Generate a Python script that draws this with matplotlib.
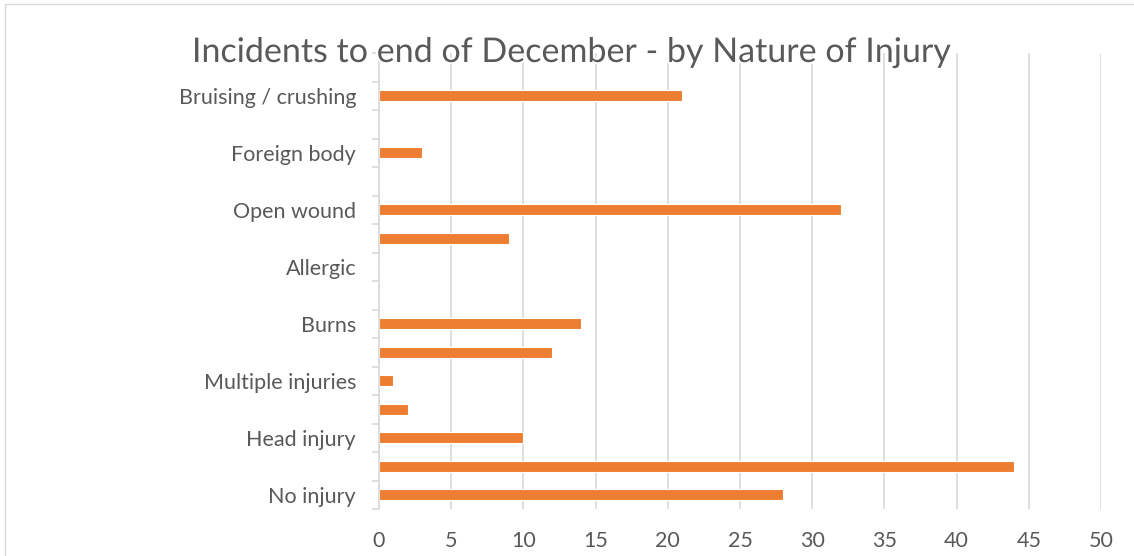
import matplotlib
matplotlib.use("Agg")
import matplotlib.pyplot as plt
import matplotlib.patheffects as pe
from matplotlib.patches import Rectangle
import numpy as np

# Categories from bottom to top (unlabelled slots are hidden in the reference)
categories = ["No injury", "", "Head injury", "", "Multiple injuries", "",
              "Burns", "", "Allergic", "", "Open wound", "",
              "Foreign body", "", "Bruising / crushing", ""]
values = [28, 44, 10, 2, 1, 12, 14, 0, 0, 9, 32, 0, 3, 0, 21, 0]
x_ticks = [0, 5, 10, 15, 20, 25, 30, 35, 40, 45, 50]
title = "Incidents to end of December - by Nature of Injury"

W, H = 1134, 556
fig = plt.figure(figsize=(W / 100, H / 100), dpi=100)
fig.patch.set_facecolor("white")

# chart border
fig.patches.append(Rectangle((5 / W, -0.05), 1.2, 1 - 4 / H + 0.05,
                             transform=fig.transFigure, fill=False,
                             edgecolor="#d9d9d9", linewidth=1.0))

left, right = 379 / W, 1101 / W
bottom, top = 1 - 509 / H, 1 - 53 / H
ax = fig.add_axes([left, bottom, right - left, top - bottom])

txt_color = "#595959"
grid_color = "#d9d9d9"
font = "Lato"

y = np.arange(len(categories))
ax.barh(y, values, height=0.37, color="#ED7D31", edgecolor="white",
        linewidth=0.8, zorder=3)

ax.set_xlim(0, 50)
ax.set_ylim(-0.5, len(categories) - 0.5)
ax.set_xticks(x_ticks)
ax.set_xticklabels([str(v) for v in x_ticks], fontsize=15.5, color=txt_color,
                   family=font)
ax.tick_params(axis="x", length=0, pad=15.5)

ax.set_yticks(y)
ax.set_yticklabels(categories, fontsize=15.5, color=txt_color, family=font)
ax.tick_params(axis="y", which="major", length=0, pad=16.5)
ax.set_yticks(np.arange(-0.5, len(categories), 1.0), minor=True)
ax.tick_params(axis="y", which="minor", length=5, width=1.2, color=grid_color,
               direction="out")

ax.xaxis.grid(True, color=grid_color, linewidth=1.2, zorder=0)
ax.set_axisbelow(True)
for s in ["top", "right", "bottom"]:
    ax.spines[s].set_visible(False)
ax.spines["left"].set_color(grid_color)
ax.spines["left"].set_linewidth(1.2)
ax.spines["left"].set_zorder(4)

fig.text(571 / W, 1 - 62 / H, title, ha="center", va="baseline",
         fontsize=24.5, color=txt_color, family=font, zorder=10,
         path_effects=[pe.withStroke(linewidth=3, foreground="white")])

fig.savefig("out.png", dpi=100, facecolor="white")
